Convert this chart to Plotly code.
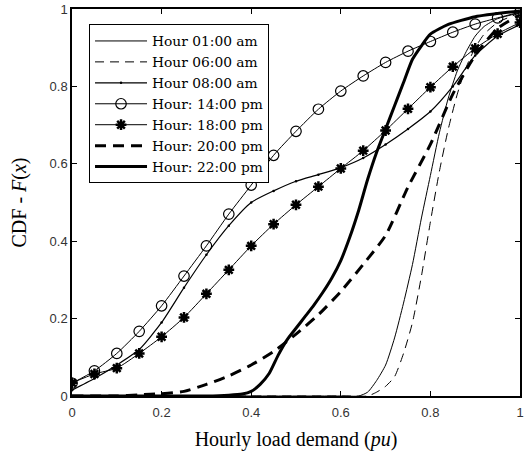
import plotly.graph_objects as go

# ---- data ----
x_mark = [0.00, 0.05, 0.10, 0.15, 0.20, 0.25, 0.30, 0.35, 0.40, 0.45, 0.50,
          0.55, 0.60, 0.65, 0.70, 0.75, 0.80, 0.85, 0.90, 0.95, 1.00]

h14 = [0.033, 0.065, 0.110, 0.167, 0.233, 0.310, 0.388, 0.470, 0.545, 0.622, 0.684,
       0.741, 0.788, 0.827, 0.862, 0.891, 0.916, 0.940, 0.961, 0.977, 0.992]

h18 = [0.034, 0.057, 0.072, 0.110, 0.153, 0.203, 0.264, 0.326, 0.388, 0.444, 0.494,
       0.541, 0.588, 0.634, 0.686, 0.742, 0.798, 0.851, 0.898, 0.936, 0.965]

h08 = [0.015, 0.045, 0.080, 0.120, 0.190, 0.280, 0.365, 0.440, 0.500, 0.530, 0.555,
       0.572, 0.590, 0.615, 0.650, 0.690, 0.735, 0.800, 0.880, 0.930, 0.960]

x_h01 = [0.0, 0.60, 0.64, 0.66, 0.68, 0.70, 0.72, 0.74, 0.76, 0.78, 0.80, 0.82,
         0.84, 0.86, 0.88, 0.90, 0.92, 0.95, 1.00]
h01 = [0.0, 0.0, 0.0, 0.010, 0.040, 0.080, 0.150, 0.240, 0.340, 0.460, 0.570, 0.680,
       0.770, 0.840, 0.890, 0.930, 0.955, 0.975, 0.990]

x_h06 = [0.0, 0.62, 0.66, 0.68, 0.70, 0.72, 0.74, 0.76, 0.78, 0.80, 0.82, 0.84,
         0.86, 0.88, 0.90, 0.92, 0.95, 1.00]
h06 = [0.0, 0.0, 0.0, 0.010, 0.025, 0.050, 0.110, 0.190, 0.310, 0.450, 0.580, 0.690,
       0.780, 0.850, 0.900, 0.935, 0.965, 0.990]

x_h20 = [0.00, 0.10, 0.15, 0.20, 0.25, 0.30, 0.35, 0.40, 0.45, 0.50, 0.55, 0.60,
         0.65, 0.70, 0.75, 0.80, 0.85, 0.90, 0.95, 1.00]
h20 = [0.000, 0.000, 0.003, 0.006, 0.012, 0.030, 0.052, 0.080, 0.115, 0.160, 0.210, 0.270,
       0.340, 0.415, 0.540, 0.650, 0.780, 0.880, 0.950, 0.985]

x_h22 = [0.00, 0.30, 0.35, 0.38, 0.40, 0.42, 0.44, 0.46, 0.48, 0.50, 0.52, 0.54,
         0.56, 0.58, 0.60, 0.62, 0.64, 0.66, 0.68, 0.70, 0.72, 0.74, 0.76, 0.78,
         0.80, 0.84, 0.90, 1.00]
h22 = [0.000, 0.000, 0.002, 0.005, 0.012, 0.030, 0.058, 0.105, 0.145, 0.175, 0.205, 0.235,
       0.268, 0.305, 0.350, 0.410, 0.480, 0.560, 0.630, 0.690, 0.750, 0.810, 0.870, 0.905,
       0.935, 0.960, 0.980, 0.995]

names = ["Hour 01:00 am", "Hour 06:00 am", "Hour 08:00 am", "Hour: 14:00 pm",
         "Hour: 18:00 pm", "Hour: 20:00 pm", "Hour: 22:00 pm"]

x_ticks = [0, 0.2, 0.4, 0.6, 0.8, 1]
x_tick_text = ["0", "0.2", "0.4", "0.6", "0.8", "1"]
y_ticks = [0, 0.2, 0.4, 0.6, 0.8, 1]
y_tick_text = ["0", "0.2", "0.4", "0.6", "0.8", "1"]

# ---- figure ----
fig = go.Figure()
SM = 0.6
fig.add_trace(go.Scatter(x=x_h01, y=h01, name=names[0], mode="lines",
                         line=dict(color="black", width=1, shape="spline", smoothing=SM)))
fig.add_trace(go.Scatter(x=x_h06, y=h06, name=names[1], mode="lines",
                         line=dict(color="black", width=1, dash="9px,6px", shape="spline", smoothing=SM)))
fig.add_trace(go.Scatter(x=x_mark, y=h08, name=names[2], mode="lines+markers",
                         line=dict(color="black", width=1.2, shape="spline", smoothing=SM),
                         marker=dict(symbol="circle", size=2.5, color="black")))
fig.add_trace(go.Scatter(x=x_mark, y=h14, name=names[3], mode="lines+markers",
                         line=dict(color="black", width=1, shape="spline", smoothing=SM),
                         marker=dict(symbol="circle-open", size=10.5, color="black",
                                     line=dict(width=1.2, color="black"))))
fig.add_trace(go.Scatter(x=x_mark, y=h18, name=names[4], mode="lines+markers",
                         line=dict(color="black", width=1, shape="spline", smoothing=SM),
                         marker=dict(symbol="asterisk-open", size=9, color="black",
                                     line=dict(width=2.5, color="black"))))
fig.add_trace(go.Scatter(x=x_h20, y=h20, name=names[5], mode="lines",
                         line=dict(color="black", width=3, dash="11px,7px", shape="spline", smoothing=SM)))
fig.add_trace(go.Scatter(x=x_h22, y=h22, name=names[6], mode="lines",
                         line=dict(color="black", width=3, shape="spline", smoothing=SM)))

tickfont = dict(family="Liberation Sans, Arial, sans-serif", size=13, color="#333333")
serif = "DejaVu Serif, Liberation Serif, serif"
fig.update_layout(
    width=524, height=460,
    margin=dict(l=72, r=4, t=9, b=64, autoexpand=False),
    paper_bgcolor="white", plot_bgcolor="white",
    showlegend=True,
    legend=dict(x=0.038, y=0.96, xanchor="left", yanchor="top",
                bordercolor="black", borderwidth=1, bgcolor="white",
                font=dict(family=serif, size=13.8, color="black"),
                itemwidth=52, tracegroupgap=0, traceorder="normal"),
    xaxis=dict(range=[0, 1], tickvals=x_ticks, ticktext=x_tick_text, automargin=False,
               ticks="inside", ticklen=5, tickcolor="black", showgrid=False, zeroline=False,
               showline=True, linecolor="black", linewidth=1.5, mirror="ticks",
               tickfont=tickfont, ticklabelstandoff=4, ticklabeloverflow="allow",
               title=dict(text="Hourly load demand (<i>pu</i>)", standoff=13,
                          font=dict(family="Liberation Serif, serif", size=20, color="black"))),
    yaxis=dict(range=[0, 1], tickvals=y_ticks, ticktext=y_tick_text, automargin=False,
               ticks="inside", ticklen=5, tickcolor="black", showgrid=False, zeroline=False,
               showline=True, linecolor="black", linewidth=1.5, mirror="ticks",
               tickfont=tickfont, ticklabeloverflow="allow",
               title=dict(text="CDF - <i>F</i>(<i>x</i>)", standoff=18,
                          font=dict(family="Liberation Serif, serif", size=20, color="black"))),
)

fig.write_html("out.html", config={"displayModeBar": False},
               post_script="document.body.style.margin='0';document.body.style.padding='0';")
